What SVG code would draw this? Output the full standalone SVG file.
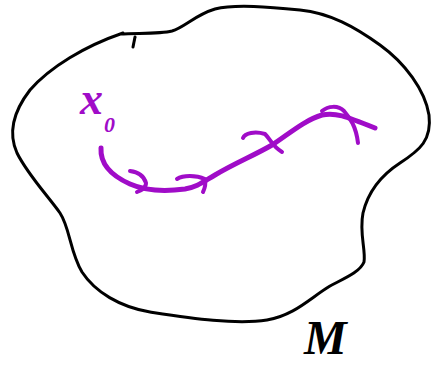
<svg xmlns="http://www.w3.org/2000/svg" width="441" height="372" viewBox="0 0 441 372">
<style>
.blob{fill:none;stroke:#000;stroke-width:3;stroke-linecap:round;stroke-linejoin:round}
.path{fill:none;stroke:#a00cc8;stroke-width:5;stroke-linecap:round;stroke-linejoin:round}
.head{fill:none;stroke:#a00cc8;stroke-width:4;stroke-linecap:round;stroke-linejoin:round}
.lbl{font-family:"Liberation Serif",serif;font-style:italic;font-weight:bold}
</style>
<rect width="441" height="372" fill="#fff"/>
<g id="manifold">
<path class="blob" d="M120,34 C140,33 160,34 172,31 C185,27 195,15 215,9 C235,4 270,7 300,10 C330,13 355,27 380,45 C405,63 425,90 429,115 C432,140 420,150 400,163 C380,176 368,192 363,213 C359,233 366,250 364,262 C360,272 345,278 330,286 C310,298 295,315 267,320 C235,325 190,318 150,312 C120,307 95,292 82,272 C70,252 70,228 60,213 C48,196 28,175 17,153 C8,133 13,112 30,90 C50,67 85,46 123,33"/>
<path class="blob" d="M135,37 L133,47"/>
</g>
<g id="curve">
<path class="path" d="M101,148 C100,165 112,176 130,184 C148,192 170,191 185,189 C197,187 203,182 215,175 C235,163 255,155 272,145 C290,133 305,120 322,115 C335,112 345,116 375,128"/>
<path class="head" d="M130,171 C138,172 144,176 146,183 C146,188 142,190 137,192"/>
<path class="head" d="M177,179 C183,175 196,175 205,179 C206,184 205,188 203,192"/>
<path class="head" d="M243,138 C245,133 255,131 265,134 C271,140 272,146 282,152"/>
<path class="head" d="M322,111 C328,106 338,105 344,111 C350,118 356,126 358,143"/>
</g>
<g id="labels">
<text class="lbl" x="80" y="114" font-size="46" fill="#a00cc8">x</text>
<text class="lbl" x="104" y="132" font-size="22" fill="#a00cc8">0</text>
<text class="lbl" x="304" y="354" font-size="48" fill="#000">M</text>
</g>
</svg>
